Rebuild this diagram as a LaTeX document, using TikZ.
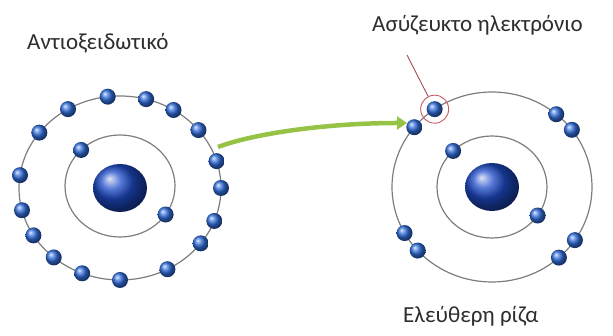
\documentclass[tikz,border=0pt]{standalone}
\usepackage{fontspec}
\setmainfont{Carlito}
\usepackage{tikz}
\usetikzlibrary{shapes.geometric,arrows.meta,calc}
\definecolor{eBlue}{RGB}{50,110,220}
\definecolor{nucBlue}{RGB}{30,75,200}
\definecolor{orbitGray}{RGB}{125,125,125}
\definecolor{arrowGreen}{RGB}{150,195,70}
\definecolor{ringRed}{RGB}{200,90,100}
\definecolor{textGray}{RGB}{45,45,45}

\begin{document}
\begin{tikzpicture}[x=1pt, y=1pt,
            every node/.style={font=\fontsize{23}{27}\selectfont, text=textGray}]
            \tikzstyle{electron} = [circle, inner sep=0, minimum size=16, shading=ball, ball color=eBlue]
            \tikzstyle{nucleus} = [ellipse, inner sep=0, minimum width=54, minimum height=48, shading=ball, ball color=nucBlue]
            \tikzstyle{orbit} = [draw=orbitGray, line width=1.2]
            \tikzstyle{label} = [anchor=base west, inner sep=0]
            \tikzstyle{ring} = [circle, draw=ringRed, line width=0.9, minimum size=28, inner sep=0]
            \tikzstyle{pointer} = [draw=ringRed!85!black, line width=0.9]
            \tikzstyle{greenArrow} = [draw=arrowGreen, line width=4.5, -{Triangle[width=13, length=10]}]
            \useasboundingbox (0,0) rectangle (613,336);
            % antioxidant
            \begin{scope}[shift={(120,148)}]
                \draw[orbit] (0,0) ellipse (101 and 92);
                \draw[orbit] (0,2) ellipse (55 and 51);
                \node[nucleus] (lnuc) at (0,0) {};
                \foreach \n/\a in {1/97,2/75,3/58,4/39,5/121,6/143,7/17,8/0,9/-21,
                                10/-37,11/-62,12/-90,13/-112,14/-131,15/-149,16/194,17/172}
                    \node[electron] (lo\n) at (\a:101 and 92) {};
                \foreach \n/\a in {1/135,2/-34}
                    \node[electron] (li\n) at ($(0,2)+(\a:55 and 51)$) {};
            \end{scope}
            % free radical
            \begin{scope}[shift={(492,149)}]
                \draw[orbit] (0,0) ellipse (100 and 95);
                \draw[orbit] (0,0) ellipse (55 and 51);
                \node[nucleus] (rnuc) at (0,0) {};
                \foreach \n/\a in {1/125,2/141,3/50,4/37,5/209,6/222,7/-34,8/-48}
                    \node[electron] (ro\n) at (\a:100 and 95) {};
                \foreach \n/\a in {1/135,2/-34}
                    \node[electron] (ri\n) at (\a:55 and 51) {};
                \node[ring] (unpaired) at (125:100 and 95) {};
            \end{scope}
            \node[label] (antiox) at (27,286) {Αντιοξειδωτικό};
            \node[label] (unpairedLabel) at (372,304) {Ασύζευκτο ηλεκτρόνιο};
            \node[label] (radical) at (403,13) {Ελεύθερη ρίζα};
            \coordinate (pStart) at (407,281);
            \path[pointer] (pStart) -- (unpaired);
            \coordinate (aStart) at (218,189);
            \coordinate (aEnd) at (407,213);
            \path[greenArrow] (aStart) .. controls (255,203) and (330,213) .. (aEnd);
        \end{tikzpicture}
\end{document}
